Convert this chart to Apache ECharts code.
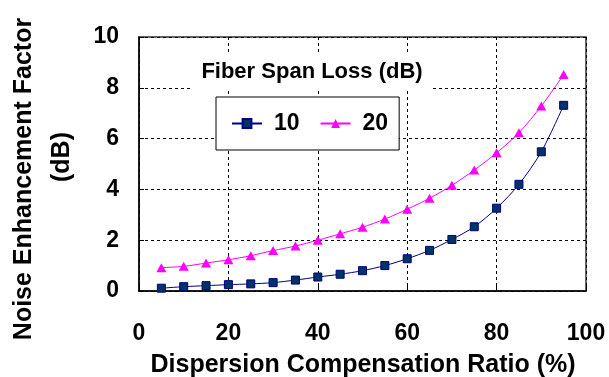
<!DOCTYPE html>
<html>
<head>
<meta charset="utf-8">
<script src="https://cdn.jsdelivr.net/npm/echarts@6/dist/echarts.min.js"></script>
<style>
  html, body { margin: 0; padding: 0; background: #fff; }
  #chart { width: 609px; height: 377px; }
</style>
</head>
<body>
<div id="chart"></div>
<script>
// Dispersion compensation ratio (%) at each measured point
const ratios = [5, 10, 15, 20, 25, 30, 35, 40, 45, 50, 55, 60, 65, 70, 75, 80, 85, 90, 95];
// Noise enhancement factor (dB) for a 10 dB fiber span loss
const loss10 = [0.11, 0.17, 0.21, 0.25, 0.28, 0.33, 0.43, 0.55, 0.66, 0.80, 1.00, 1.27, 1.60, 2.03, 2.53, 3.26, 4.20, 5.48, 7.31];
// Noise enhancement factor (dB) for a 20 dB fiber span loss
const loss20 = [0.92, 0.97, 1.10, 1.23, 1.39, 1.59, 1.77, 2.00, 2.25, 2.51, 2.83, 3.22, 3.65, 4.16, 4.76, 5.44, 6.23, 7.28, 8.52];
const seriesNames = ['10', '20'];

const FONT = '"Liberation Sans", Arial, sans-serif';
const pair = (xs, ys) => xs.map((x, i) => [x, ys[i]]);

const chart = echarts.init(document.getElementById('chart'), null, { renderer: 'canvas' });

const gridLine = { show: true, lineStyle: { color: '#000', type: [3, 3], width: 1 } };

chart.setOption({
  animation: false,
  backgroundColor: '#fff',
  grid: {
    left: 139, right: 23, top: 37, bottom: 86,
    show: true, borderColor: '#333', borderWidth: 1.5, backgroundColor: 'transparent'
  },
  xAxis: {
    type: 'value', min: 0, max: 100, interval: 20,
    axisLine: { show: true, lineStyle: { color: '#000', width: 1.5 } },
    axisTick: { show: true, inside: true, length: 5, lineStyle: { color: '#000' } },
    axisLabel: { color: '#000', fontFamily: FONT, fontWeight: 'bold', fontSize: 23, margin: 31 },
    splitLine: gridLine
  },
  yAxis: {
    type: 'value', min: 0, max: 10, interval: 2,
    axisLine: { show: true, lineStyle: { color: '#000', width: 1.5 } },
    axisTick: { show: true, inside: true, length: 5, lineStyle: { color: '#000' } },
    axisLabel: { color: '#000', fontFamily: FONT, fontWeight: 'bold', fontSize: 23, margin: 20 },
    splitLine: gridLine
  },
  legend: {
    left: 216, top: 97,
    data: seriesNames,
    backgroundColor: '#fff',
    borderColor: '#000', borderWidth: 1,
    padding: [15, 11, 15, 15],
    itemWidth: 30, itemHeight: 11, itemGap: 20,
    textStyle: { color: '#000', fontFamily: FONT, fontWeight: 'bold', fontSize: 23, padding: [0, 0, 0, 7] }
  },
  graphic: [
    {
      type: 'rect', z: 10,
      shape: { x: 192, y: 54, width: 241, height: 35 },
      style: { fill: '#fff' }
    },
    {
      type: 'text', z: 11, x: 312, y: 72,
      style: {
        text: 'Fiber Span Loss (dB)', fill: '#000',
        font: 'bold 22px ' + FONT, align: 'center', verticalAlign: 'middle'
      }
    },
    {
      type: 'text', x: 24, y: 179, rotation: Math.PI / 2,
      style: {
        text: 'Noise Enhancement Factor', fill: '#000',
        font: 'bold 25px ' + FONT, align: 'center', verticalAlign: 'middle'
      }
    },
    {
      type: 'text', x: 62, y: 157, rotation: Math.PI / 2,
      style: {
        text: '(dB)', fill: '#000',
        font: 'bold 25px ' + FONT, align: 'center', verticalAlign: 'middle'
      }
    },
    {
      type: 'text', x: 363, y: 365,
      style: {
        text: 'Dispersion Compensation Ratio (%)', fill: '#000',
        font: 'bold 25px ' + FONT, align: 'center', verticalAlign: 'middle'
      }
    }
  ],
  series: [
    {
      name: seriesNames[0], type: 'line', smooth: 0.3,
      data: pair(ratios, loss10),
      symbol: 'rect', symbolSize: 8,
      lineStyle: { color: '#000080', width: 1 },
      itemStyle: { color: '#003366', borderColor: '#000080', borderWidth: 1 },
      z: 3
    },
    {
      name: seriesNames[1], type: 'line', smooth: 0.3,
      data: pair(ratios, loss20),
      symbol: 'triangle', symbolSize: [10, 9],
      lineStyle: { color: '#ff00ff', width: 1 },
      itemStyle: { color: '#ff00ff', borderColor: '#ff00ff', borderWidth: 0 },
      z: 3
    }
  ]
});
</script>
</body>
</html>
